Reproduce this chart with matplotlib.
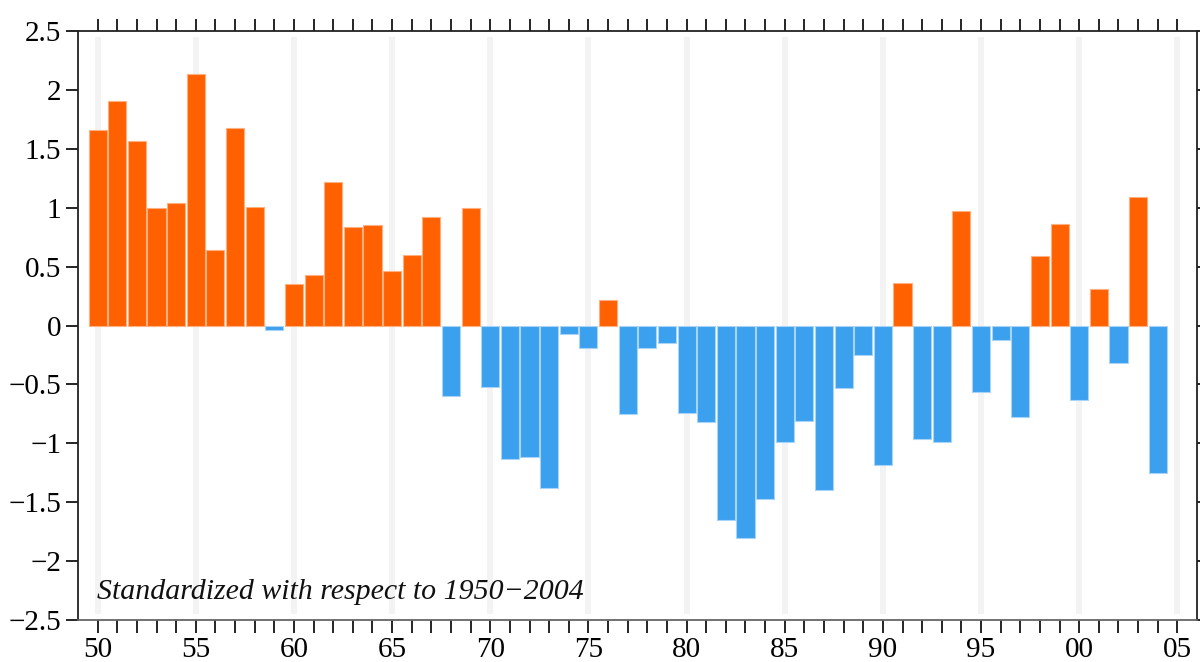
import matplotlib.pyplot as plt
import numpy as np

years = list(range(1950, 2005))
index_values = [
    1.66, 1.91, 1.57, 1.00, 1.04, 2.14, 0.64, 1.68, 1.01, -0.04,  # 1950s
    0.35, 0.43, 1.22, 0.84, 0.85, 0.46, 0.60, 0.92, -0.60, 1.00,  # 1960s
    -0.52, -1.13, -1.12, -1.38, -0.07, -0.19, 0.22, -0.75, -0.19, -0.15,  # 1970s
    -0.74, -0.82, -1.65, -1.80, -1.47, -0.99, -0.81, -1.40, -0.53, -0.25,  # 1980s
    -1.18, 0.36, -0.96, -0.99, 0.97, -0.56, -0.12, -0.78, 0.59, 0.86,  # 1990s
    -0.63, 0.31, -0.32, 1.09, -1.25,  # 2000s
]
band_years = list(range(1950, 2010, 5))
ytick_vals = [-2.5, -2, -1.5, -1, -0.5, 0, 0.5, 1, 1.5, 2, 2.5]
ytick_labels = ["\u22122.5", "\u22122", "\u22121.5", "\u22121", "\u22120.5", "0",
                "0.5", "1", "1.5", "2", "2.5"]
xtick_labels = ["50", "55", "60", "65", "70", "75", "80", "85", "90", "95", "00", "05"]

ORANGE = "#ff6000"
BLUE = "#3ba0ee"

plt.rcParams["font.family"] = ["Liberation Serif", "DejaVu Serif"]

fig = plt.figure(figsize=(12, 6.62), dpi=100)
ax = fig.add_axes([0.065, 0.0634, 0.9325, 0.8896])

vals = np.array(index_values)
colors = [ORANGE if v > 0 else BLUE for v in vals]
edges = ["#ffb080" if v > 0 else "#a8d4f7" for v in vals]

ax.vlines(band_years, -2.45, 2.45, colors="#f3f3f3", linewidth=4.2, zorder=0)
ax.bar(years, vals, width=0.92, color=colors, edgecolor=edges, linewidth=0.8, zorder=2)

ax.set_xlim(1949, 2006)
ax.set_ylim(-2.5, 2.5)

ax.set_xticks(band_years)
ax.set_xticklabels(xtick_labels, fontsize=21)
ax.set_xticks(range(1950, 2006), minor=True)
ax.set_yticks(ytick_vals)
ax.set_yticklabels(ytick_labels, fontsize=21)

ax.tick_params(axis="x", which="both", direction="out", length=9, width=1.2,
               top=True, bottom=True, labeltop=False, pad=3)
ax.tick_params(axis="y", which="both", direction="out", length=9, width=1.2,
               right=True, left=True, pad=3)

for side in ("left", "top", "right"):
    ax.spines[side].set_color("#222222")
    ax.spines[side].set_linewidth(1.3)
ax.spines["bottom"].set_color("#666666")
ax.spines["bottom"].set_linewidth(1.3)

ax.text(1949.95, -2.32, "Standardized with respect to 1950\u22122004",
        fontsize=21.5, fontstyle="italic", ha="left", va="baseline", color="#111111")

fig.savefig("out.png", dpi=100)
